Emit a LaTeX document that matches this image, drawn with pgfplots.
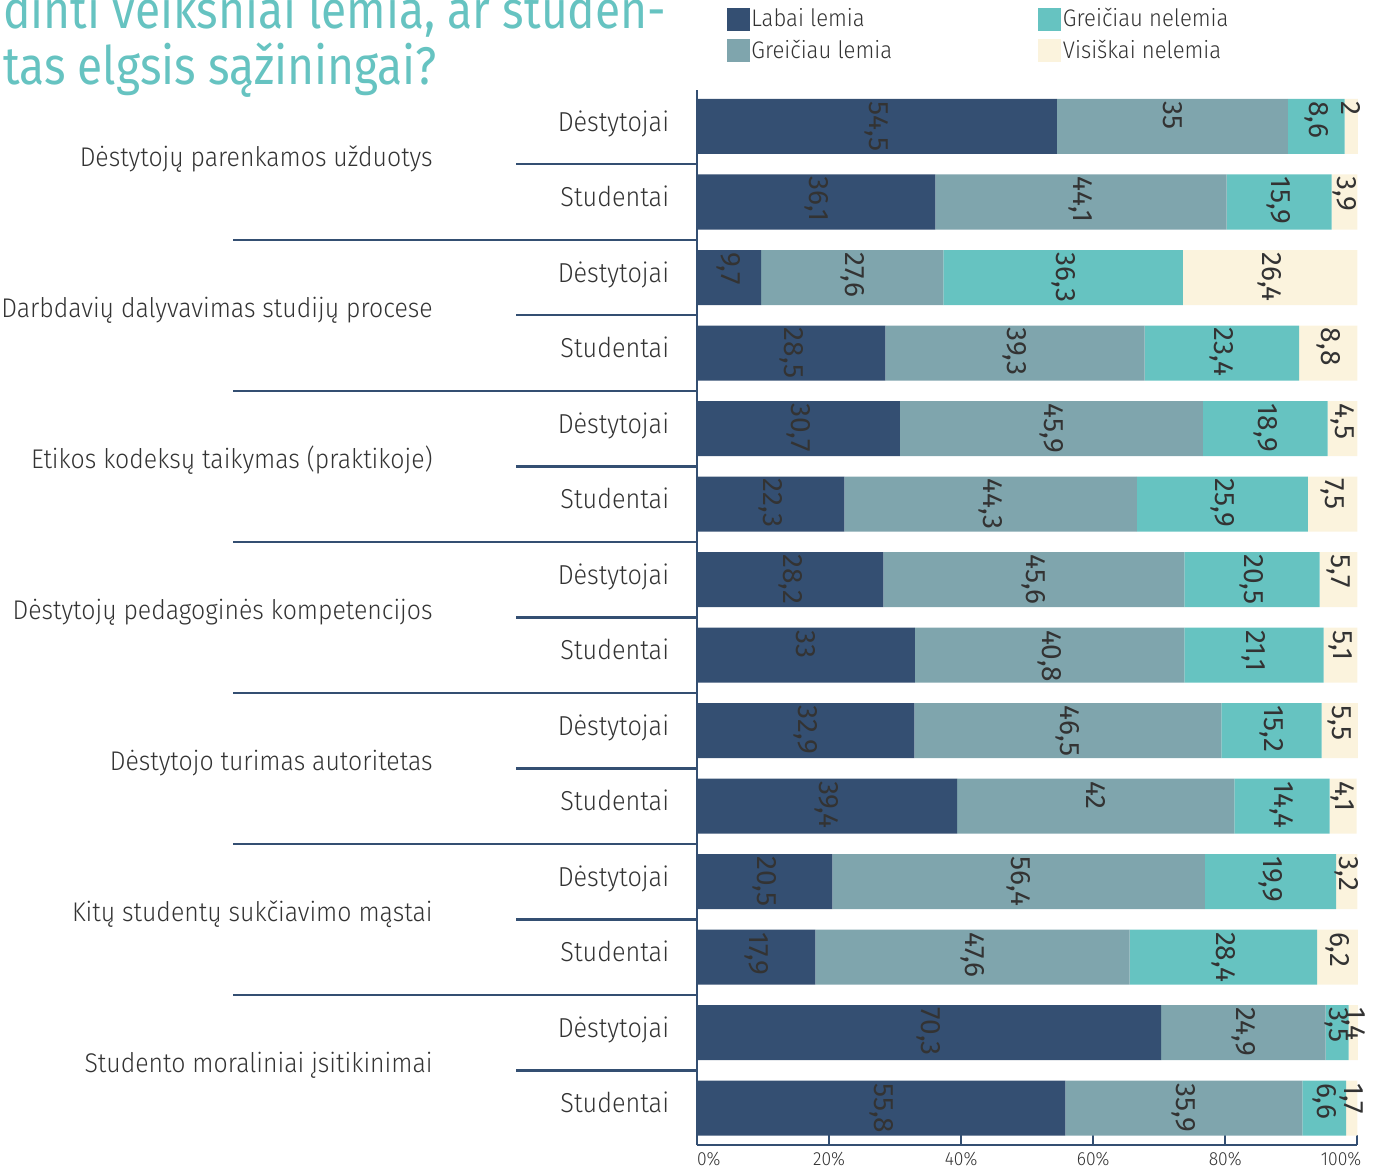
\documentclass[border=0pt]{standalone}
\usepackage{fontspec}
\setmainfont{Fira Sans}[UprightFont=* Light, FakeStretch=0.92]
\newfontfamily\titlefont{Fira Sans}[FakeStretch=0.87]
\newfontfamily\numfont{Fira Sans}
\usepackage{pgfplots}
\pgfplotsset{compat=1.18}
\usepackage{pgfplotstable}

\definecolor{dblue}{HTML}{344F72}
\definecolor{gteal}{HTML}{7FA5AD}
\definecolor{lteal}{HTML}{66C3C1}
\definecolor{cream}{HTML}{FBF3DD}
\definecolor{txt}{HTML}{333333}

% y: 13 = top bar ... 0 = bottom bar
\pgfplotstableread{
y a b c d
13 54.5 35 8.6 2
12 36.1 44.1 15.9 3.9
11 9.7 27.6 36.3 26.4
10 28.5 39.3 23.4 8.8
9 30.7 45.9 18.9 4.5
8 22.3 44.3 25.9 7.5
7 28.2 45.6 20.5 5.7
6 33 40.8 21.1 5.1
5 32.9 46.5 15.2 5.5
4 39.4 42 14.4 4.1
3 20.5 56.4 19.9 3.2
2 17.9 47.6 28.4 6.2
1 70.3 24.9 3.5 1.4
0 55.8 35.9 6.6 1.7
}\data

\begin{document}
\begin{tikzpicture}
\begin{axis}[
  x=3.3pt, y=37.75pt,
  xmin=0, xmax=100, ymin=-0.49, ymax=13.48,
  clip=false,
  xbar stacked, bar width=27.5pt,
  axis x line=bottom, axis y line=left,
  axis line style={-, draw=dblue, line width=1.2pt},
  xtick={0,20,...,100},
  xticklabel={\ifnum\ticknum=0 \rlap{0\%}\else\ifnum\ticknum=5 \llap{100\%\kern-2pt}\else\pgfmathprintnumber[assume math mode=true]{\tick}\%\fi\fi},
  xticklabel style={font=\fontsize{9.5}{11}\selectfont, text=txt},
  tick align=inside, major tick length=5pt,
  x tick style={draw=dblue, line width=1pt},
  ytick={0,...,13},
  yticklabels={Studentai,Dėstytojai,Studentai,Dėstytojai,Studentai,Dėstytojai,Studentai,Dėstytojai,Studentai,Dėstytojai,Studentai,Dėstytojai,Studentai,Dėstytojai},
  y tick style={draw=none},
  yticklabel style={font=\fontsize{13.7}{15}\selectfont, text=txt, anchor=base east, yshift=-2.3pt, xshift=-10.5pt},
]
\addplot[fill=dblue, draw=none] table[x=a, y=y] {\data};
\addplot[fill=gteal, draw=none] table[x=b, y=y] {\data};
\addplot[fill=lteal, draw=none] table[x=c, y=y] {\data};
\addplot[fill=cream, draw=none] table[x=d, y=y] {\data};

% separators
\draw[dblue, line width=1.2pt] (axis cs:-27.4,12.5) -- (axis cs:0,12.5);
\draw[dblue, line width=1.2pt] (axis cs:-27.4,10.5) -- (axis cs:0,10.5);
\draw[dblue, line width=1.2pt] (axis cs:-27.4,8.5) -- (axis cs:0,8.5);
\draw[dblue, line width=1.2pt] (axis cs:-27.4,6.5) -- (axis cs:0,6.5);
\draw[dblue, line width=1.2pt] (axis cs:-27.4,4.5) -- (axis cs:0,4.5);
\draw[dblue, line width=1.2pt] (axis cs:-27.4,2.5) -- (axis cs:0,2.5);
\draw[dblue, line width=1.2pt] (axis cs:-27.4,0.5) -- (axis cs:0,0.5);
\draw[dblue, line width=1.2pt] (axis cs:-70.3,11.5) -- (axis cs:0,11.5);
\draw[dblue, line width=1.2pt] (axis cs:-70.3,9.5) -- (axis cs:0,9.5);
\draw[dblue, line width=1.2pt] (axis cs:-70.3,7.5) -- (axis cs:0,7.5);
\draw[dblue, line width=1.2pt] (axis cs:-70.3,5.5) -- (axis cs:0,5.5);
\draw[dblue, line width=1.2pt] (axis cs:-70.3,3.5) -- (axis cs:0,3.5);
\draw[dblue, line width=1.2pt] (axis cs:-70.3,1.5) -- (axis cs:0,1.5);

% group labels
\node[anchor=base east, text=txt, font=\fontsize{13.5}{15}\selectfont, inner sep=0pt] at (axis cs:-40,12.474) {Dėstytojų parenkamos užduotys};
\node[anchor=base east, text=txt, font=\fontsize{13.5}{15}\selectfont, inner sep=0pt] at (axis cs:-40,10.474) {Darbdavių dalyvavimas studijų procese};
\node[anchor=base east, text=txt, font=\fontsize{13.5}{15}\selectfont, inner sep=0pt] at (axis cs:-40,8.474) {Etikos kodeksų taikymas (praktikoje)};
\node[anchor=base east, text=txt, font=\fontsize{13.5}{15}\selectfont, inner sep=0pt] at (axis cs:-40,6.474) {Dėstytojų pedagoginės kompetencijos};
\node[anchor=base east, text=txt, font=\fontsize{13.5}{15}\selectfont, inner sep=0pt] at (axis cs:-40,4.474) {Dėstytojo turimas autoritetas};
\node[anchor=base east, text=txt, font=\fontsize{13.5}{15}\selectfont, inner sep=0pt] at (axis cs:-40,2.474) {Kitų studentų sukčiavimo mąstai};
\node[anchor=base east, text=txt, font=\fontsize{13.5}{15}\selectfont, inner sep=0pt] at (axis cs:-40,0.474) {Studento moraliniai įsitikinimai};

% title (cut off at the top, as in the source)
\node[anchor=base west, inner sep=0pt, text=lteal, font=\titlefont\fontsize{26.5}{30}\selectfont] at (axis cs:-105.2,14.30) {dinti veiksniai lemia, ar studen-};
\node[anchor=base west, inner sep=0pt, text=lteal, font=\titlefont\fontsize{26.5}{30}\selectfont] at (axis cs:-105.2,13.55) {tas elgsis sąžiningai?};

\coordinate (bbll) at (axis cs:-105.6,-0.834);
\coordinate (bbur) at (axis cs:104.2,14.675);
\end{axis}

\begin{axis}[
  x=3.3pt, y=37.75pt,
  xmin=0, xmax=100, ymin=-0.49, ymax=13.48,
  clip=false, hide axis,
  nodes near coords={\pgfmathprintnumber[use comma,fixed,precision=1,assume math mode=true]{\pgfplotspointmeta}},
  every node near coord/.style={rotate=-90, anchor=west, inner sep=1pt, text=txt,
      font=\numfont\fontsize{14}{16}\selectfont},
  legend style={at={(axis description cs:0.044,1.08)}, anchor=north west,
    draw=none, fill=none, inner sep=0pt, font=\fontsize{12}{14}\selectfont, text=txt,
    row sep=3pt, nodes={inner sep=1pt},
    /tikz/every even column/.append style={column sep=72pt}},
  legend columns=2, legend cell align=left,
]
\addlegendimage{legend image code/.code={\fill[dblue] (0pt,-5.5pt) rectangle (11pt,5.5pt);}}
\addlegendentry{Labai lemia}
\addlegendimage{legend image code/.code={\fill[lteal] (0pt,-5.5pt) rectangle (11pt,5.5pt);}}
\addlegendentry{Greičiau nelemia}
\addlegendimage{legend image code/.code={\fill[gteal] (0pt,-5.5pt) rectangle (11pt,5.5pt);}}
\addlegendentry{Greičiau lemia}
\addlegendimage{legend image code/.code={\fill[cream] (0pt,-5.5pt) rectangle (11pt,5.5pt);}}
\addlegendentry{Visiškai nelemia}

\addplot[only marks, mark=none, point meta=explicit] table[x expr=0.5*\thisrow{a}, y expr=\thisrow{y}+0.364, meta=a] {\data};
\addplot[only marks, mark=none, point meta=explicit] table[x expr=\thisrow{a}+0.5*\thisrow{b}, y expr=\thisrow{y}+0.364, meta=b] {\data};
\addplot[only marks, mark=none, point meta=explicit] table[x expr=\thisrow{a}+\thisrow{b}+0.5*\thisrow{c}, y expr=\thisrow{y}+0.364, meta=c] {\data};
\addplot[only marks, mark=none, point meta=explicit] table[x expr=\thisrow{a}+\thisrow{b}+\thisrow{c}+0.5*\thisrow{d}, y expr=\thisrow{y}+0.364, meta=d] {\data};
\end{axis}

\pgfresetboundingbox
\path[use as bounding box] (bbll) rectangle (bbur);
\end{tikzpicture}
\end{document}
